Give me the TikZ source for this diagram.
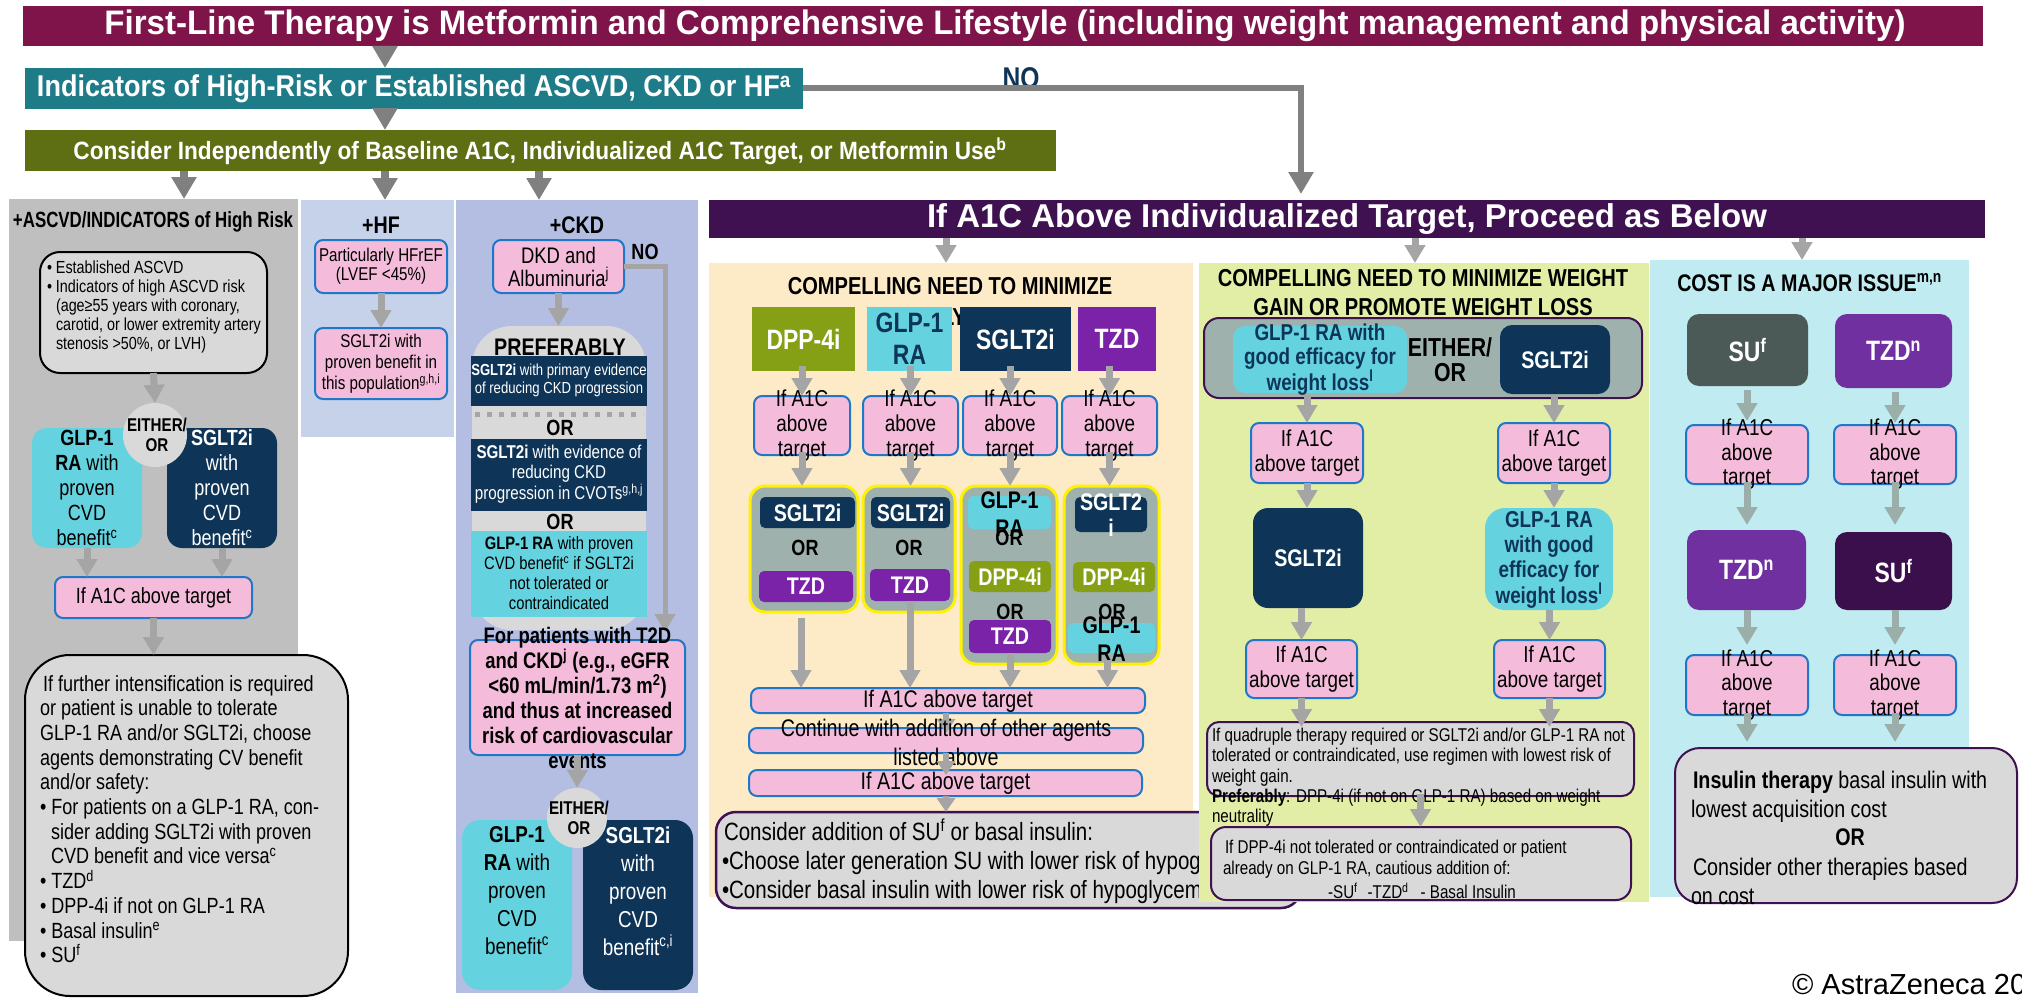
\documentclass[tikz,border=0pt]{standalone}
\usepackage{fontspec}
\usepackage{graphicx}
\setmainfont{Liberation Sans}
\newfontfamily\nf[FakeStretch=0.82]{Liberation Sans}
\usetikzlibrary{arrows.meta,calc}
\definecolor{cmaroon}{HTML}{7E1449}
\definecolor{cteal}{HTML}{1E7B88}
\definecolor{colive}{HTML}{5E6E12}
\definecolor{cdpurple}{HTML}{3F1151}
\definecolor{cnavy}{HTML}{0E3558}
\definecolor{ccyan}{HTML}{65D3DF}
\definecolor{cpink}{HTML}{F4BCDA}
\definecolor{cpinkb}{HTML}{1F77C8}
\definecolor{ccolgray}{HTML}{BFBFBF}
\definecolor{cboxgray}{HTML}{D9D9D9}
\definecolor{chf}{HTML}{C5D2E9}
\definecolor{cckd}{HTML}{B4BEE3}
\definecolor{ccream}{HTML}{FDEBC8}
\definecolor{cgreen}{HTML}{E2EEA5}
\definecolor{ccost}{HTML}{C0EBF0}
\definecolor{cgt}{HTML}{9FB1AD}
\definecolor{cdpp}{HTML}{86A016}
\definecolor{ctzd}{HTML}{7A22A8}
\definecolor{ctzdb}{HTML}{7030A0}
\definecolor{csu}{HTML}{4B5A57}
\definecolor{csub}{HTML}{3A0F4B}
\definecolor{carrd}{HTML}{808080}
\definecolor{carr}{HTML}{A5A5A5}
\definecolor{carrc}{HTML}{9BAEA9}
\newcommand\sz[2]{\fontsize{#1}{#2}\selectfont}
\newcommand\wfit[2]{\resizebox{#1}{\height}{#2}}
\newcommand\bxc[6]{\node[#1, inner sep=0pt, outer sep=0pt, minimum width={(#5)-(#3)}, minimum height={(#6)-(#4)}] (#2) at ({((#3)+(#5))/2},{((#4)+(#6))/2}) {};}
\begin{document}
\begin{tikzpicture}[x=1pt,y=-1pt,
 tx/.style={inner sep=0pt, outer sep=0pt, align=center},
 ar/.style={draw=carr, line width=7pt, -{Triangle[width=20pt,length=18pt]}},
 ard/.style={draw=carrd, line width=8pt, -{Triangle[width=24pt,length=22pt]}},
 arc/.style={draw=carrc, line width=7pt, -{Triangle[width=20pt,length=18pt]}},
 ars/.style={draw=carr, line width=6pt, -{Triangle[width=18pt,length=14pt]}},
 pinkbox/.style={fill=cpink, draw=cpinkb, line width=2pt, rounded corners=8pt},
 greybox/.style={fill=cboxgray, draw=cdpurple, line width=2pt, rounded corners=12pt},
 gyb/.style={fill=cgt, draw=yellow, line width=3pt, rounded corners=15pt}]
\fill[white] (0,0) rectangle (2022,998);
\useasboundingbox (0,0) rectangle (2022,998);
% ---------- top headers
\bxc{fill=cmaroon}{h1}{23}{6}{1983}{46}
\node[tx,text=white] (h1t) at (1005,26) {\wfit{1801pt}{\nf\bfseries\sz{34}{34}First-Line Therapy is Metformin and Comprehensive Lifestyle (including weight management and physical activity)}};
\bxc{fill=cteal}{h2}{25}{68}{803}{109}
\node[tx,text=white] (h2t) at (414,89) {\wfit{754pt}{\nf\bfseries\sz{30}{30}Indicators of High-Risk or Established ASCVD, CKD or HF\textsuperscript{a}}};
\bxc{fill=colive}{h3}{25}{130}{1056}{171}
\node[tx,text=white] (h3t) at (540,151) {\wfit{933pt}{\nf\bfseries\sz{25}{25}Consider Independently of Baseline A1C, Individualized A1C Target, or Metformin Use\textsuperscript{b}}};
\coordinate (xa) at (385,0);
\coordinate (xb) at (184,0);
\coordinate (xc) at (539,0);
\coordinate (xn) at (1301,0);
\draw[ard] (h1.south -| xa) -- (h2.north -| xa);
\draw[ard] (h2.south -| xa) -- (h3.north -| xa);
\node[tx, text=cnavy, font=\nf\bfseries\sz{30}{30}] (nolab) at (1021,78) {NO};
\bxc{fill=cdpurple}{h4}{709}{200}{1985}{238}
\node[tx,text=white] (h4t) at (1347,219) {\wfit{840pt}{\bfseries\sz{33}{33}If A1C Above Individualized Target, Proceed as Below}};
\draw[draw=carrd, line width=6pt, -{Triangle[width=24pt,length=22pt]}] (h2.east) -| ($(xn |- h4.north)+(0,-6)$);
% ---------- left column ASCVD
\bxc{fill=ccolgray}{colA}{9}{199}{298}{941}
\draw[ard] (h3.south -| xb) -- (colA.north -| xb);
\node[tx] (colAt) at (153,222) {\wfit{280pt}{\nf\bfseries\sz{22}{22}+ASCVD/INDICATORS of High Risk}};
\bxc{fill=cboxgray, draw=black, line width=2pt, rounded corners=20pt}{est}{40}{252}{267}{373}
\node[tx, align=left, anchor=west, font=\nf\sz{17.5}{19}] (estt) at (47,307) {\textbullet\ Established ASCVD\\\textbullet\ Indicators of high ASCVD risk\\\hspace*{9pt}(age≥55 years with coronary,\\\hspace*{9pt}carotid, or lower extremity artery\\\hspace*{9pt}stenosis >50\%, or LVH)};
\bxc{fill=ccyan, rounded corners=15pt}{glpA}{32}{428}{142}{548}
\bxc{fill=cnavy, rounded corners=15pt}{sgltA}{167}{428}{277}{548}
\node[circle, fill=cboxgray, minimum size=64pt, inner sep=0pt] (eitherA) at (155,435) {};
\draw[ar] (est.south) -- (eitherA.north);
\node[tx, font=\nf\sz{22}{25}] (glpAt) at (87,488) {\textbf{GLP-1}\\\textbf{RA} with\\proven\\CVD\\benefit\textsuperscript{c}};
\node[tx, text=white, font=\nf\sz{22}{25}] (sgltAt) at (222,488) {\textbf{SGLT2i}\\with\\proven\\CVD\\benefit\textsuperscript{c}};
\node[tx, font=\nf\bfseries\sz{18.5}{20}] (eitherAt) at (157,435) {EITHER/\\OR};
\bxc{pinkbox}{pinkA}{55}{577}{252}{618}
\node[tx, font=\nf\sz{22}{22}] (pinkAt) at (pinkA) {If A1C above target};
\draw[ar] (glpA.south) -- (glpA.south |- pinkA.north);
\draw[ar] (sgltA.south) -- (sgltA.south |- pinkA.north);
\bxc{fill=cboxgray, draw=black, line width=2pt, rounded corners=45pt}{bigA}{25}{655}{348}{996}
\draw[ar] (pinkA.south) -- (pinkA.south |- bigA.north);
\node[tx, align=left, anchor=west, font=\nf\sz{22}{24.7}] (bigAt) at (40,819) {\hspace*{3pt}If further intensification is required\\or patient is unable to tolerate\\GLP-1 RA and/or SGLT2i, choose\\agents demonstrating CV benefit\\and/or safety:\\\textbullet\ For patients on a GLP-1 RA, con-\\\hspace*{11pt}sider adding SGLT2i with proven\\\hspace*{11pt}CVD benefit and vice versa\textsuperscript{c}\\\textbullet\ TZD\textsuperscript{d}\\\textbullet\ DPP-4i if not on GLP-1 RA\\\textbullet\ Basal insulin\textsuperscript{e}\\\textbullet\ SU\textsuperscript{f}};
% ---------- HF column
\bxc{fill=chf}{colH}{301}{200}{454}{437}
\draw[ard] (h3.south -| xa) -- (colH.north -| xa);
\node[tx, font=\nf\bfseries\sz{24}{24}] (colHt) at (381,225) {+HF};
\bxc{pinkbox}{hf1}{315}{240}{447}{293}
\node[tx, font=\nf\sz{18.5}{19}] (hf1t) at (hf1) {Particularly HFrEF\\(LVEF <45\%)};
\bxc{pinkbox}{hf2}{315}{328}{447}{399}
\node[tx, font=\nf\sz{18.5}{21}] (hf2t) at (hf2) {SGLT2i with\\proven benefit in\\this population\textsuperscript{g,h,i}};
\draw[ar] (hf1.south) -- (hf2.north);
% ---------- CKD column
\bxc{fill=cckd}{colC}{456}{200}{698}{993}
\draw[ard] (h3.south -| xc) -- (colC.north -| xc);
\node[tx, font=\nf\bfseries\sz{24}{24}] (colCt) at (577,225) {+CKD};
\bxc{pinkbox}{dkd}{493}{240}{624}{293}
\node[tx, font=\nf\sz{22.5}{23}] (dkdt) at (dkd) {DKD and\\Albuminuria\textsuperscript{j}};
\node[tx, font=\nf\bfseries\sz{22}{22}] (no2) at (645,252) {NO};
\bxc{fill=cboxgray, rounded corners=40pt}{pref}{472}{326}{646}{630}
\draw[ar] (dkd.south) -- (dkd.south |- pref.north);
\node[tx, font=\nf\bfseries\sz{24}{24}] (preft) at (560,347) {PREFERABLY};
\bxc{fill=cnavy}{band1}{471}{356}{647}{406}
\node[tx, text=white, font=\nf\sz{16}{18}] (band1t) at (559,380) {\textbf{SGLT2i} with primary evidence\\of reducing CKD progression};
\draw[carr, line width=5pt, dash pattern=on 5pt off 7pt] ($(band1.south west)+(4,8)$) -- ($(band1.south east)+(-4,8)$);
\node[tx, font=\nf\bfseries\sz{22}{22}] (orc1) at (560,428) {OR};
\bxc{fill=cnavy}{band2}{471}{439}{647}{511}
\node[tx, text=white, font=\nf\sz{18.5}{20.5}] (band2t) at (559,474) {\textbf{SGLT2i} with evidence of\\reducing CKD\\progression in CVOTs\textsuperscript{g,h,j}};
\node[tx, font=\nf\bfseries\sz{22}{22}] (orc2) at (560,522) {OR};
\bxc{fill=ccyan}{band3}{471}{531}{647}{617}
\node[tx, font=\nf\sz{18}{20}] (band3t) at (559,573) {\textbf{GLP-1 RA} with proven\\CVD benefit\textsuperscript{c} if SGLT2i\\not tolerated or\\contraindicated};
\bxc{pinkbox}{ckdpink}{470}{640}{685}{755}
\coordinate (xno) at (665,0);
\draw[draw=carr, line width=5pt, -{Triangle[width=20pt,length=18pt]}] (dkd.east) -| ($(xno |- ckdpink.north)+(0,-8)$);
\node[tx, font=\nf\bfseries\sz{22.5}{25}] (ckdpinkt) at (577.5,697.5) {For patients with T2D\\and CKD\textsuperscript{j} (e.g., eGFR\\<60 mL/min/1.73 m\textsuperscript{2})\\and thus at increased\\risk of cardiovascular\\events};
\bxc{fill=ccyan, rounded corners=18pt}{glpC}{462}{820}{572}{990}
\bxc{fill=cnavy, rounded corners=18pt}{sgltC}{583}{820}{693}{990}
\node[circle, fill=cboxgray, minimum size=60pt, inner sep=0pt] (eitherC) at (577,818) {};
\draw[ar] (ckdpink.south) -- (eitherC.north);
\node[tx, font=\nf\sz{23}{28}] (glpCt) at (517,891) {\textbf{GLP-1}\\\textbf{RA} with\\proven\\CVD\\benefit\textsuperscript{c}};
\node[tx, text=white, font=\nf\sz{23}{28}] (sgltCt) at (638,891) {\textbf{SGLT2i}\\with\\proven\\CVD\\benefit\textsuperscript{c,i}};
\node[tx, font=\nf\bfseries\sz{18.5}{20}] (eitherCt) at (579,818) {EITHER/\\OR};
% ---------- cream section
\bxc{fill=ccream}{cream}{709}{263}{1193}{897}
\coordinate (xm) at (946,0);
\draw[ar] (h4.south -| xm) -- (cream.north -| xm);
\node[tx, font=\nf\bfseries\sz{24.5}{31}] (creamt) at (950,302) {COMPELLING NEED TO MINIMIZE\\HYPOGLYCEMIA};
\bxc{fill=cdpp}{dpp}{752}{307}{855}{371}
\bxc{fill=ccyan}{glpM}{867}{307}{952}{371}
\bxc{fill=cnavy}{sgltM}{960}{307}{1071}{371}
\bxc{fill=ctzd}{tzdM}{1078}{307}{1156}{371}
\node[tx, text=white, font=\nf\bfseries\sz{28}{32}] (dppt) at (dpp) {DPP-4i};
\node[tx, text=cnavy, font=\nf\bfseries\sz{28}{32}] (glpMt) at (glpM) {GLP-1\\RA};
\node[tx, text=white, font=\nf\bfseries\sz{28}{32}] (sgltMt) at (sgltM) {SGLT2i};
\node[tx, text=white, font=\nf\bfseries\sz{28}{32}] (tzdMt) at (tzdM) {TZD};
\bxc{pinkbox}{pk1}{754}{396}{850}{455}
\bxc{pinkbox}{pk2}{863}{396}{958}{455}
\bxc{pinkbox}{pk3}{963}{396}{1057}{455}
\bxc{pinkbox}{pk4}{1062}{396}{1157}{455}
\draw[ar] ($(dpp.south -| pk1.north)+(0,-5)$) -- (pk1.north);
\draw[ar] ($(glpM.south -| pk2.north)+(0,-5)$) -- (pk2.north);
\draw[ar] ($(sgltM.south -| pk3.north)+(0,-5)$) -- (pk3.north);
\draw[ar] ($(tzdM.south -| pk4.north)+(0,-5)$) -- (pk4.north);
\node[tx, font=\nf\sz{23}{25}] (pk1t) at (pk1) {If A1C\\above\\target};
\node[tx, font=\nf\sz{23}{25}] (pk2t) at (pk2) {If A1C\\above\\target};
\node[tx, font=\nf\sz{23}{25}] (pk3t) at (pk3) {If A1C\\above\\target};
\node[tx, font=\nf\sz{23}{25}] (pk4t) at (pk4) {If A1C\\above\\target};
\bxc{gyb}{gb1}{750}{486}{858}{612}
\bxc{gyb}{gb2}{863}{486}{955}{612}
\bxc{gyb}{gb3}{961}{486}{1057}{664}
\bxc{gyb}{gb4}{1064}{486}{1159}{664}
\draw[ar] ($(pk1.south)+(0,-3)$) -- (pk1.south |- gb1.north);
\draw[ar] ($(pk2.south)+(0,-3)$) -- (pk2.south |- gb2.north);
\draw[ar] ($(pk3.south)+(0,-3)$) -- (pk3.south |- gb3.north);
\draw[ar] ($(pk4.south)+(0,-3)$) -- (pk4.south |- gb4.north);
% gb1
\bxc{fill=cnavy, rounded corners=5pt}{sg1}{760}{497}{855}{528}
\node[tx, text=white, font=\nf\bfseries\sz{24}{24}] (sg1t) at (sg1) {SGLT2i};
\node[tx, font=\nf\bfseries\sz{22}{22}] (om1) at (805,548) {OR};
\bxc{fill=ctzd, rounded corners=5pt}{tz1}{759}{571}{853}{602}
\node[tx, text=white, font=\nf\bfseries\sz{24}{24}] (tz1t) at (tz1) {TZD};
% gb2
\bxc{fill=cnavy, rounded corners=5pt}{sg2}{871}{497}{950}{528}
\node[tx, text=white, font=\nf\bfseries\sz{24}{24}] (sg2t) at (sg2) {SGLT2i};
\node[tx, font=\nf\bfseries\sz{22}{22}] (om2) at (909,548) {OR};
\bxc{fill=ctzd, rounded corners=5pt}{tz2}{870}{569}{950}{601}
\node[tx, text=white, font=\nf\bfseries\sz{24}{24}] (tz2t) at (tz2) {TZD};
% gb3
\bxc{fill=ccyan, rounded corners=5pt}{gl3}{968}{496}{1051}{529}
\node[tx, font=\nf\bfseries\sz{24}{28}] (gl3t) at (1009.5,514) {GLP-1\\RA};
\node[tx, font=\nf\bfseries\sz{22}{22}] (om3a) at (1009,538) {OR};
\bxc{fill=cdpp, rounded corners=5pt}{dp3}{969}{561}{1051}{592}
\node[tx, text=white, font=\nf\bfseries\sz{24}{24}] (dp3t) at (dp3) {DPP-4i};
\node[tx, font=\nf\bfseries\sz{22}{22}] (om3b) at (1010,612) {OR};
\bxc{fill=ctzd, rounded corners=5pt}{tz3}{969}{620}{1051}{653}
\node[tx, text=white, font=\nf\bfseries\sz{24}{24}] (tz3t) at (tz3) {TZD};
% gb4
\bxc{fill=cnavy, rounded corners=5pt}{sg4}{1075}{497}{1147}{532}
\node[tx, text=white, font=\nf\bfseries\sz{24}{26}] (sg4t) at (1111,515) {SGLT2\\i};
\bxc{fill=cdpp, rounded corners=5pt}{dp4}{1073}{562}{1155}{592}
\node[tx, text=white, font=\nf\bfseries\sz{24}{24}] (dp4t) at (dp4) {DPP-4i};
\node[tx, font=\nf\bfseries\sz{22}{22}] (om4) at (1112,612) {OR};
\bxc{fill=ccyan, rounded corners=5pt}{gl4}{1068}{623}{1155}{653}
\node[tx, font=\nf\bfseries\sz{24}{28}] (gl4t) at (1111.5,639) {GLP-1\\RA};
% long pinks
\bxc{pinkbox}{lp1}{751}{688}{1145}{713}
\bxc{pinkbox}{lp2}{749}{728}{1143}{753}
\bxc{pinkbox}{lp3}{749}{770}{1142}{796}
\coordinate (g1a) at ($(gb1.south)+(-3,6)$);
\coordinate (g4a) at ($(gb4.south)+(-4,-4)$);
\draw[ar] (g1a) -- (g1a |- lp1.north);
\draw[ar] (tz2.south) -- (tz2.south |- lp1.north);
\draw[ar] (tz3.south) -- (tz3.south |- lp1.north);
\draw[ar] (g4a) -- (g4a |- lp1.north);
\node[tx, font=\nf\sz{24}{24}] (lp1t) at (948,701) {If A1C above target};
\draw[ars] (lp1.south -| xm) -- ($(lp2.north -| xm)+(0,5)$);
\node[tx, font=\nf\sz{24}{29}] (lp2t) at (946,742) {Continue with addition of other agents\\listed above};
\draw[ars] (lp2.south -| xm) -- ($(lp3.north -| xm)+(0,5)$);
\node[tx, font=\nf\sz{24}{24}] (lp3t) at (945.5,783) {If A1C above target};
\bxc{fill=cboxgray, draw=cdpurple, line width=2.5pt, rounded corners=20pt}{cons}{716}{812}{1301}{908}
\draw[ars] (lp3.south -| xm) -- (cons.north -| xm);
\node[tx, align=left, anchor=west, font=\nf\sz{25}{29}] (const) at (722,861) {\hspace*{2pt}Consider addition of SU\textsuperscript{f} or basal insulin:\\\textbullet Choose later generation SU with lower risk of hypoglycemia\\\textbullet Consider basal insulin with lower risk of hypoglycemia};
% ---------- green section
\bxc{fill=cgreen}{grn}{1199}{263}{1649}{902}
\coordinate (xg) at (1415,0);
\draw[ar] (h4.south -| xg) -- (grn.north -| xg);
\node[tx, font=\nf\bfseries\sz{24.5}{29}] (grnt) at (1423,292.5) {COMPELLING NEED TO MINIMIZE WEIGHT\\GAIN OR PROMOTE WEIGHT LOSS};
\bxc{fill=cgt, draw=cdpurple, line width=2pt, rounded corners=15pt}{gc}{1204}{318}{1642}{398}
\bxc{fill=ccyan, rounded corners=12pt}{gcy}{1233}{326}{1407}{393}
\node[tx, text=cnavy, font=\nf\bfseries\sz{23}{23.5}] (gcyt) at (1320,360) {GLP-1 RA with\\good efficacy for\\weight loss\textsuperscript{l}};
\node[tx, font=\nf\bfseries\sz{26}{25}] (either3) at (1450,360) {EITHER/\\OR};
\bxc{fill=cnavy, rounded corners=12pt}{gnv}{1500}{325}{1610}{394}
\node[tx, text=white, font=\nf\bfseries\sz{24}{24}] (gnvt) at (gnv) {SGLT2i};
\bxc{pinkbox}{gpL}{1251}{423}{1363}{483}
\bxc{pinkbox}{gpR}{1498}{423}{1610}{483}
\draw[ar] ($(gc.south -| gpL.north)+(0,-3)$) -- (gpL.north);
\draw[ar] ($(gc.south -| gpR.north)+(0,-3)$) -- (gpR.north);
\node[tx, font=\nf\sz{23}{25}] (gpLt) at (gpL) {If A1C\\above target};
\node[tx, font=\nf\sz{23}{25}] (gpRt) at (gpR) {If A1C\\above target};
\bxc{fill=cnavy, rounded corners=15pt}{gsL}{1253}{508}{1363}{608}
\node[tx, text=white, font=\nf\bfseries\sz{24}{24}] (gsLt) at (gsL) {SGLT2i};
\bxc{fill=ccyan, rounded corners=20pt}{gcR}{1485}{508}{1613}{610}
\node[tx, text=cnavy, font=\nf\bfseries\sz{23}{25}] (gcRt) at (1549,560) {GLP-1 RA\\with good\\efficacy for\\weight loss\textsuperscript{l}};
\draw[ar] (gpL.south) -- (gpL.south |- gsL.north);
\draw[ar] (gpR.south) -- (gpR.south |- gcR.north);
\bxc{pinkbox}{gpL2}{1246}{640}{1357}{698}
\bxc{pinkbox}{gpR2}{1494}{640}{1605}{698}
\draw[ar] (gsL.south -| gpL2.north) -- (gpL2.north);
\draw[ar] (gcR.south -| gpR2.north) -- (gpR2.north);
\node[tx, font=\nf\sz{23}{25}] (gpL2t) at (gpL2) {If A1C\\above target};
\node[tx, font=\nf\sz{23}{25}] (gpR2t) at (gpR2) {If A1C\\above target};
\bxc{greybox}{quad}{1207}{722}{1634}{796}
\draw[ar] (gpL2.south) -- ++(0,29);
\draw[ar] (gpR2.south) -- ++(0,29);
\node[tx, align=left, anchor=west, font=\nf\sz{18.5}{20.3}] (quadt) at (1212,777.5) {If quadruple therapy required or SGLT2i and/or GLP-1 RA not\\tolerated or contraindicated, use regimen with lowest risk of\\weight gain.\\\textbf{Preferably}: DPP-4i (if not on GLP-1 RA) based on weight\\neutrality};
\bxc{fill=cboxgray, draw=cdpurple, line width=2pt, rounded corners=15pt}{dppb}{1211}{827}{1631}{900}
\draw[ar] ($(quad.south)+(0,-2)$) -- (quad.south |- dppb.north);
\node[tx, align=left, anchor=west, font=\nf\sz{18.5}{21}] (dppbt) at (1223,859.5) {\hspace*{2pt}If DPP-4i not tolerated or contraindicated or patient\\already on GLP-1 RA, cautious addition of:};
\node[tx, font=\nf\sz{18.5}{21}] (dppbt2) at (1422,891) {-SU\textsuperscript{f}\hspace{10pt}-TZD\textsuperscript{d}\hspace{12pt}- Basal Insulin};
% ---------- cost section
\bxc{fill=ccost}{cost}{1650}{260}{1969}{897}
\coordinate (xk) at (1802,0);
\draw[ar] (h4.south -| xk) -- (cost.north -| xk);
\node[tx, font=\nf\bfseries\sz{24}{24}] (costt) at (1809.5,283) {COST IS A MAJOR ISSUE\textsuperscript{m,n}};
\bxc{fill=csu, rounded corners=12pt}{suA}{1687}{314}{1808}{386}
\bxc{fill=ctzdb, rounded corners=12pt}{tzA}{1835}{314}{1952}{388}
\node[tx, text=white, font=\nf\bfseries\sz{28}{28}] (suAt) at (suA) {SU\textsuperscript{f}};
\node[tx, text=white, font=\nf\bfseries\sz{28}{28}] (tzAt) at (tzA) {TZD\textsuperscript{n}};
\bxc{pinkbox}{cp1}{1686}{425}{1808}{484}
\bxc{pinkbox}{cp2}{1834}{425}{1956}{484}
\draw[arc] ($(suA.south -| cp1.north)+(0,4)$) -- ($(cp1.north)+(0,-4)$);
\draw[arc] ($(tzA.south -| cp2.north)+(0,4)$) -- ($(cp2.north)+(0,-2)$);
\node[tx, font=\nf\sz{23}{24.5}] (cp1t) at (cp1) {If A1C\\above\\target};
\node[tx, font=\nf\sz{23}{24.5}] (cp2t) at (cp2) {If A1C\\above\\target};
\bxc{fill=ctzdb, rounded corners=12pt}{tzB}{1687}{530}{1806}{610}
\bxc{fill=csub, rounded corners=12pt}{suB}{1835}{532}{1952}{610}
\draw[arc] ($(cp1.south)+(0,-2)$) -- ($(cp1.south |- tzB.north)+(0,-5)$);
\draw[arc] ($(cp2.south)+(0,-2)$) -- ($(cp2.south |- suB.north)+(0,-7)$);
\node[tx, text=white, font=\nf\bfseries\sz{28}{28}] (tzBt) at (tzB) {TZD\textsuperscript{n}};
\node[tx, text=white, font=\nf\bfseries\sz{28}{28}] (suBt) at (suB) {SU\textsuperscript{f}};
\bxc{pinkbox}{cp3}{1686}{655}{1808}{715}
\bxc{pinkbox}{cp4}{1834}{655}{1956}{715}
\draw[arc] (tzB.south -| cp3.north) -- ($(cp3.north)+(0,-10)$);
\draw[arc] (suB.south -| cp4.north) -- ($(cp4.north)+(0,-10)$);
\node[tx, font=\nf\sz{23}{24.5}] (cp3t) at (cp3) {If A1C\\above\\target};
\node[tx, font=\nf\sz{23}{24.5}] (cp4t) at (cp4) {If A1C\\above\\target};
\bxc{fill=cboxgray, draw=cdpurple, line width=2pt, rounded corners=25pt}{ins}{1675}{748}{2017}{903}
\draw[arc] ($(cp3.south)+(0,-2)$) -- ($(cp3.south |- ins.north)+(0,-6)$);
\draw[arc] ($(cp4.south)+(0,-2)$) -- ($(cp4.south |- ins.north)+(0,-6)$);
\node[tx, align=left, anchor=west, font=\nf\sz{24}{29}] (inst) at (1691,837.5) {\hspace*{2pt}\textbf{Insulin therapy} basal insulin with\\lowest acquisition cost\\\mbox{}\\\hspace*{2pt}Consider other therapies based\\on cost};
\node[tx, font=\nf\bfseries\sz{24}{24}] (insor) at (1850,837) {OR};
\node[tx, anchor=west, font=\sz{29}{29}] (copy) at (1792,985) {© AstraZeneca 20};
\end{tikzpicture}
\end{document}
